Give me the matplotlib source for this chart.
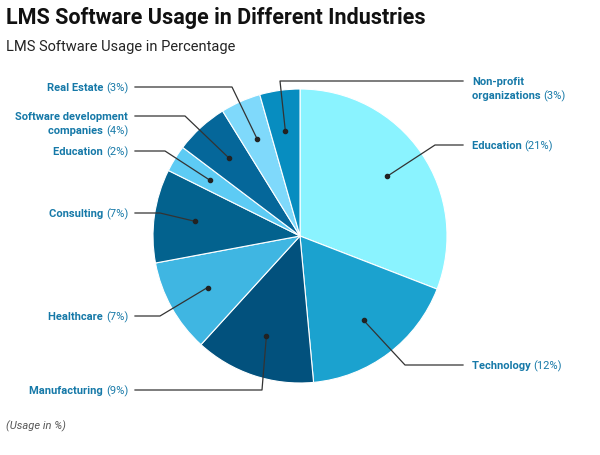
import matplotlib
matplotlib.use("Agg")
import matplotlib.pyplot as plt
import numpy as np

categories = ["Education", "Technology", "Manufacturing", "Healthcare", "Consulting",
              "Education", "Software development\ncompanies", "Real Estate", "Non-profit\norganizations"]
values = [21, 12, 9, 7, 7, 2, 4, 3, 3]
colors = ["#8af3ff", "#1ba2cf", "#02517d", "#3fb6e2", "#03628e",
          "#5dcbf4", "#05679a", "#7fd9fb", "#078dc0"]

# layout: (label y px from top, side, elbow x px)
layout = [(146, "R", 435), (366, "R", 405), (391, "L", 262), (317, "L", 160),
          (214, "L", 160), (152, "L", 165), (117, "L", 185), (88, "L", 232), (82, "R", 280)]

W, H = 600, 456
fig = plt.figure(figsize=(6, 4.56), dpi=100)
ax = fig.add_axes([0, 0, 1, 1])
ax.set_xlim(0, W); ax.set_ylim(0, H); ax.set_aspect("equal"); ax.axis("off")

cx, cy, r = 300, H - 237, 147
wedges, _ = ax.pie(values, colors=colors, startangle=90, counterclock=False,
                   center=(cx, cy), radius=r, wedgeprops=dict(edgecolor="white", linewidth=0.8))
ax.set_xlim(0, W); ax.set_ylim(0, H)

fig.canvas.draw()
renderer = fig.canvas.get_renderer()
tc = "#1679a8"
fam = "Roboto"
fs = 8
for w, cat, v, (ly, side, ex) in zip(wedges, categories, values, layout):
    ang = np.deg2rad((w.theta1 + w.theta2) / 2)
    dx, dy = cx + 0.72 * r * np.cos(ang), cy + 0.72 * r * np.sin(ang)
    ly2 = H - ly
    lx = 463 if side == "R" else 135
    ax.plot([dx, ex, lx], [dy, ly2, ly2], color="#333333", lw=0.9)
    ax.plot(dx, dy, "o", color="#222222", ms=3)
    pct = f"({v}%)"
    lines = cat.split("\n")
    if len(lines) == 1:
        name, first = lines[0], None
        yy = ly2
    else:
        first, name = lines
    if side == "R":
        tx = 472
        if first:
            ax.text(tx, ly2, first, color=tc, fontsize=fs, family=fam, fontweight="bold", va="center", ha="left")
            yy = ly2 - 14
        t = ax.text(tx, yy, name + " ", color=tc, fontsize=fs, family=fam, fontweight="bold", va="center", ha="left")
        bb = t.get_window_extent(renderer)
        ax.text(bb.x1, yy, pct, color=tc, fontsize=fs, family=fam, va="center", ha="left")
    else:
        tx = 128
        if first:
            ax.text(tx, ly2, first, color=tc, fontsize=fs, family=fam, fontweight="bold", va="center", ha="right")
            yy = ly2 - 14
        t = ax.text(tx, yy, pct, color=tc, fontsize=fs, family=fam, va="center", ha="right")
        bb = t.get_window_extent(renderer)
        ax.text(bb.x0, yy, name + " ", color=tc, fontsize=fs, family=fam, fontweight="bold", va="center", ha="right")

fig.text(6 / W, 1 - 18 / H, "LMS Software Usage in Different Industries", fontsize=15.5,
         family=fam, fontweight="bold", va="center", ha="left", color="#111111")
fig.text(6 / W, 1 - 47 / H, "LMS Software Usage in Percentage", fontsize=10.5,
         family=fam, va="center", ha="left", color="#222222")
fig.text(6 / W, 1 - 426 / H, "(Usage in %)", fontsize=8, family=fam, style="italic",
         va="center", ha="left", color="#555555")
fig.savefig("out.png", dpi=100, facecolor="white")
